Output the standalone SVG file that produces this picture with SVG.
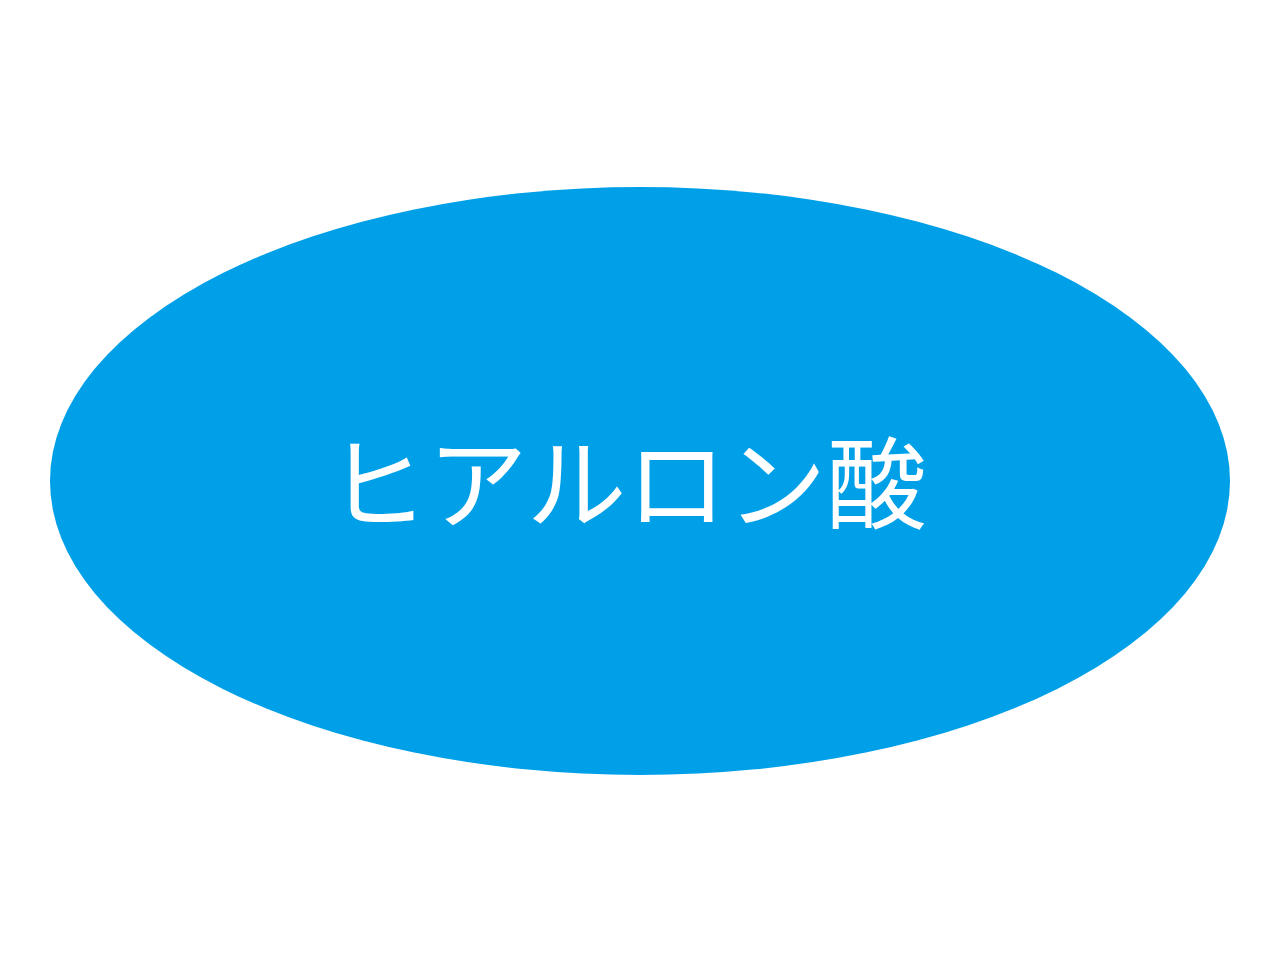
<svg xmlns="http://www.w3.org/2000/svg" width="1280" height="962" viewBox="0 0 1280 962">
<style>
.lbl{font-family:"Noto Sans CJK JP","Noto Sans",sans-serif;font-size:100px;fill:#ffffff;text-anchor:middle;}
</style>
<rect width="1280" height="962" fill="#ffffff"/>
<g id="node-hyaluronic">
<ellipse cx="640" cy="481" rx="590" ry="294" fill="#00A0E9"/>
<text class="lbl" x="627" y="521">ヒアルロン酸</text>
</g>
<g id="connectors"/>
</svg>
